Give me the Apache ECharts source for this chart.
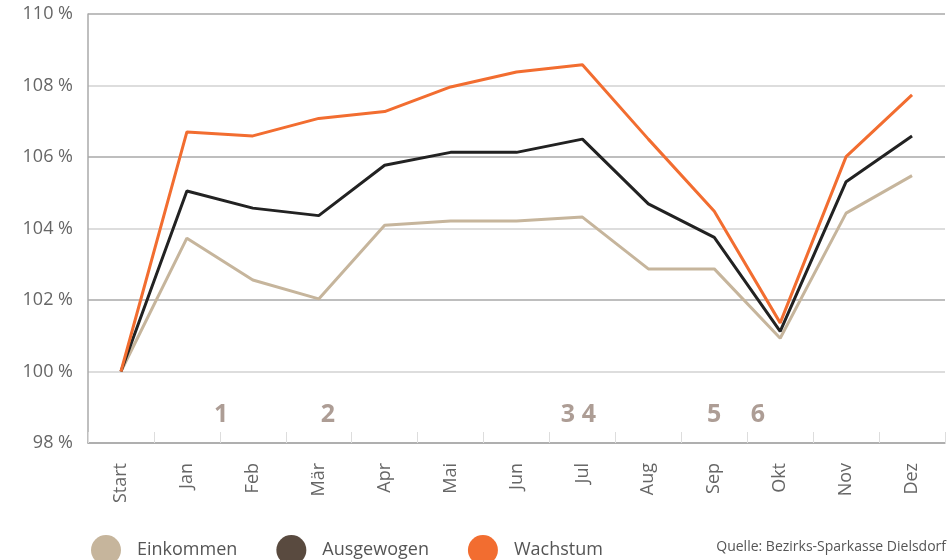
<!DOCTYPE html>
<html>
<head>
<meta charset="utf-8">
<script src="https://cdn.jsdelivr.net/npm/echarts@6/dist/echarts.min.js"></script>
<style>
  html, body { margin: 0; padding: 0; background: #fff; }
  #chart { width: 948px; height: 560px; }
</style>
</head>
<body>
<div id="chart"></div>
<script>
// Monate
const months = ["Start", "Jan", "Feb", "Mär", "Apr", "Mai", "Jun", "Jul", "Aug", "Sep", "Okt", "Nov", "Dez"];

// Werte in %
const einkommen = [100, 103.73, 102.56, 102.03, 104.09, 104.21, 104.21, 104.32, 102.87, 102.87, 100.93, 104.43, 105.48];
const ausgewogen = [100, 105.05, 104.57, 104.36, 105.77, 106.13, 106.13, 106.5, 104.69, 103.75, 101.12, 105.31, 106.59];
const wachstum = [100, 106.7, 106.59, 107.08, 107.27, 107.96, 108.38, 108.58, 106.5, 104.48, 101.36, 106.01, 107.74];

// Ereignis-Nummern (Position in Monatsindex, Höhe in %)
const markLabels = ["1", "2", "3", "4", "5", "6"];
const markX = [1.52, 3.14, 6.78, 7.1, 9.0, 9.66];
const markY = [98.78, 98.78, 98.78, 98.78, 98.78, 98.78];

const yTicks = { min: 98, max: 110, step: 2 };

const colors = {
  einkommen: "#c6b59c",
  ausgewogen: "#222222",
  ausgewogenLegend: "#594a3f",
  wachstum: "#f26d30",
  marker: "#98847a",
};

let chart = echarts.init(document.getElementById("chart"));

let option = {
  animation: false,
  textStyle: { fontFamily: "'Open Sans', sans-serif" },
  grid: { left: 88, right: 3, top: 14, bottom: 117 },
  legend: {
    left: 86,
    top: 530,
    itemWidth: 30,
    itemHeight: 30,
    itemGap: 39,
    icon: "circle",
    textStyle: { fontSize: 18, color: "#555", padding: [0, 0, 0, 11] },
    data: [
      { name: "Einkommen", itemStyle: { color: colors.einkommen } },
      { name: "Ausgewogen", itemStyle: { color: colors.ausgewogenLegend } },
      { name: "Wachstum", itemStyle: { color: colors.wachstum } },
    ],
  },
  title: {
    text: "Quelle: Bezirks-Sparkasse Dielsdorf",
    right: 2,
    top: 540,
    padding: 0,
    textStyle: { fontSize: 14, fontWeight: "normal", color: "#555" },
  },
  xAxis: [
    {
      type: "category",
      data: months,
      boundaryGap: true,
      axisLine: { show: true, onZero: false, lineStyle: { color: "#aaa", width: 1.5 } },
      axisTick: { show: true, inside: true, length: 11, lineStyle: { color: "#ddd" } },
      axisLabel: { rotate: 90, margin: 20, fontSize: 18, color: "#666" },
      splitLine: { show: false },
    },
    {
      type: "value",
      min: -0.5,
      max: 12.5,
      show: false,
    },
  ],
  yAxis: {
    type: "value",
    min: yTicks.min,
    max: yTicks.max,
    interval: yTicks.step,
    axisLine: { show: true, onZero: false, lineStyle: { color: "#aaa", width: 1.5 } },
    axisTick: { show: false },
    axisLabel: { formatter: "{value} %", fontSize: 18, color: "#666", margin: 15 },
    splitLine: { show: true, lineStyle: { color: ["#a8a8a8", "#d2d2d2"], width: 1.5 } },
  },
  series: [
    {
      name: "Einkommen",
      type: "line",
      data: einkommen,
      symbol: "none",
      lineStyle: { color: colors.einkommen, width: 3 },
      itemStyle: { color: colors.einkommen },
    },
    {
      name: "Ausgewogen",
      type: "line",
      data: ausgewogen,
      symbol: "none",
      lineStyle: { color: colors.ausgewogen, width: 3 },
      itemStyle: { color: colors.ausgewogen },
    },
    {
      name: "Wachstum",
      type: "line",
      data: wachstum,
      symbol: "none",
      lineStyle: { color: colors.wachstum, width: 3 },
      itemStyle: { color: colors.wachstum },
    },
    {
      name: "marker",
      type: "scatter",
      xAxisIndex: 1,
      symbolSize: 0,
      data: markX.map((x, i) => ({ value: [x, markY[i]], name: markLabels[i] })),
      label: {
        show: true,
        position: "inside",
        formatter: (p) => p.name,
        fontSize: 25,
        fontWeight: "bold",
        color: colors.marker,
      },
    },
  ],
};
chart.setOption(option);
</script>
</body>
</html>
